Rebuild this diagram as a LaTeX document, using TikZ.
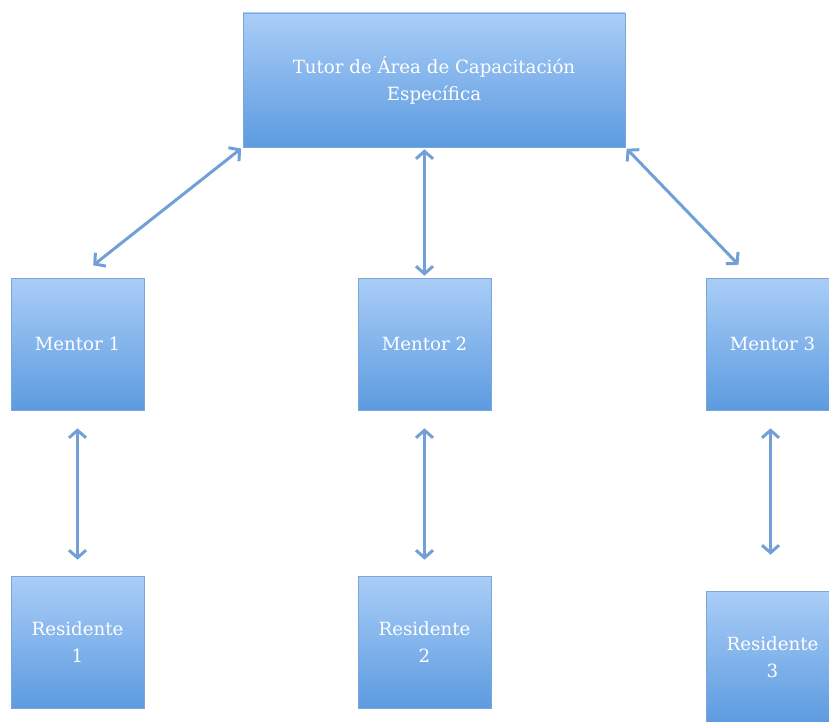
\documentclass[tikz,border=0pt]{standalone}
\usepackage{fontspec}
\setmainfont{DejaVu Serif}
\usetikzlibrary{arrows.meta,positioning}
\definecolor{boxtop}{HTML}{AACDF7}
\definecolor{boxbot}{HTML}{5C9BE0}
\definecolor{boxline}{HTML}{7AA6D8}
\definecolor{link}{HTML}{72A0D6}

\begin{document}
\begin{tikzpicture}[x=1pt, y=-1pt,
    box/.style={draw=boxline, line width=0.6pt, top color=boxtop, bottom color=boxbot,
      minimum width=133pt, minimum height=132pt, inner sep=2pt,
      text=white, font=\fontsize{18.2}{27}\selectfont, align=center},
    link/.style={draw=link, line width=3pt,
      {Straight Barb[length=7.5pt,width=17pt,line width=3pt]}-{Straight Barb[length=7.5pt,width=17pt,line width=3pt]}}]
  \useasboundingbox (0,0) rectangle (829,722);

  % ======= top =======
  \node[box, minimum width=382pt, minimum height=134pt] (tutor) at (434,80)
    {Tutor de Área de Capacitación\\Específica};

  % ======= mentors =======
  \node[box] (m1) at (77.5,344) {Mentor 1};
  \node[box] (m2) at (424.5,344) {Mentor 2};
  \node[box] (m3) at (772.5,344) {Mentor 3};
  \coordinate (m3top) at ([xshift=-34pt,yshift=13pt]m3.north);

  % ======= residents =======
  \node[box] (r1) at (77.5,642) {Residente\\1};
  \node[box] (r2) at (424.5,642) {Residente\\2};
  \node[box] (r3) at (772.5,657) {Residente\\3};

  % arrows tutor - mentors
  \draw[link, shorten <=2pt, shorten >=20pt] (tutor.south west) -- (m1.north);
  \draw[link, shorten <=2pt, shorten >=2pt] (tutor.south -| m2.north) -- (m2.north);
  \draw[link, shorten <=2pt] (tutor.south east) -- (m3top);

  % arrows mentors - residents
  \draw[link, shorten <=18pt, shorten >=16pt] (m1.south) -- (r1.north);
  \draw[link, shorten <=18pt, shorten >=16pt] (m2.south) -- (r2.north);
  \draw[link, shorten <=18pt, shorten >=36pt] ([xshift=-2pt]m3.south) -- ([xshift=-2pt]r3.north);
\end{tikzpicture}
\end{document}
